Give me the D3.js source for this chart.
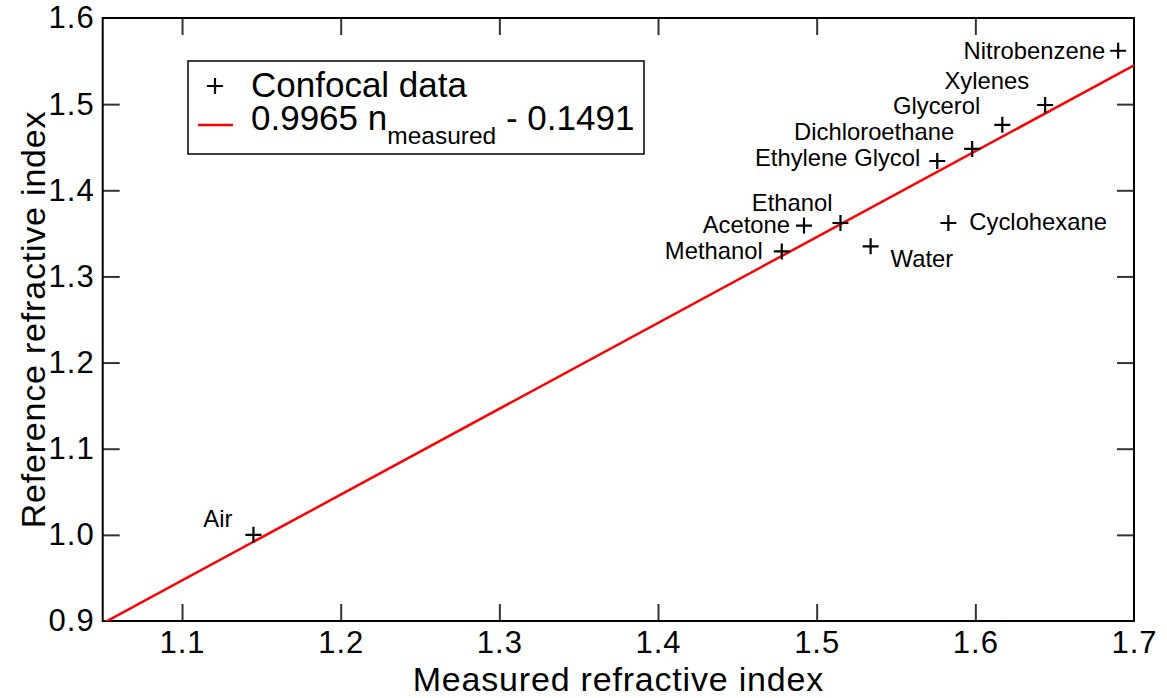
<!DOCTYPE html>
<html>
<head>
<meta charset="utf-8">
<script src="https://cdn.jsdelivr.net/npm/d3@7"></script>
<style>
	body { margin: 0; background: #fff; }
	text { font-family: "Liberation Sans", Arial, sans-serif; fill: #000; }
</style>
</head>
<body>
<svg id="chart" width="1167" height="698"></svg>
<script>
// solvents, measured (confocal) vs reference refractive index
var names = ["Air", "Methanol", "Acetone", "Ethanol", "Water", "Cyclohexane",
	"Ethylene Glycol", "Dichloroethane", "Glycerol", "Xylenes", "Nitrobenzene"];
var measured = [1.145, 1.478, 1.492, 1.515, 1.534, 1.583, 1.576, 1.598, 1.617, 1.644, 1.690];
var reference = [1.000, 1.329, 1.359, 1.362, 1.335, 1.362, 1.434, 1.448, 1.476, 1.499, 1.562];

// linear fit shown in legend
var fit_slope = 0.9965;
var fit_offset = -0.1491;

var x_ticks = [1.1, 1.2, 1.3, 1.4, 1.5, 1.6, 1.7];
var y_ticks = [0.9, 1.0, 1.1, 1.2, 1.3, 1.4, 1.5, 1.6];

// label placement around each point: [dx, dy, anchor]
var label_offsets = [
	[-21, -8, "end"], [-19, 8, "end"], [-14, 7, "end"], [-8, -12, "end"],
	[20, 21, "start"], [21, 7, "start"], [-17, 5, "end"], [-18, -9, "end"],
	[-22, -11, "end"], [-16, -16, "end"], [-13, 8, "end"]
];

// plot area (window.top is read-only, so no bare "top")
var plot_left = 102.7, plot_right = 1134, plot_top = 18, plot_bottom = 621;

var svg = d3.select("#chart");

var x = d3.scaleLinear().domain([1.05, 1.7]).range([plot_left, plot_right]);
var y = d3.scaleLinear().domain([0.9, 1.6]).range([plot_bottom, plot_top]);

svg.append("clipPath").attr("id", "plot_clip")
	.append("rect")
	.attr("x", plot_left).attr("y", plot_top)
	.attr("width", plot_right - plot_left).attr("height", plot_bottom - plot_top);

// axes with inward ticks on all four sides
function style_axis(g, show_labels){
	g.select(".domain").remove();
	g.selectAll(".tick line").attr("stroke", "#333").attr("stroke-width", 2);
	g.selectAll(".tick text").style("font-size", "31px").style("letter-spacing", "1px");
	if(!show_labels) g.selectAll(".tick text").remove();
}

var inner_x = x_ticks.filter(function(d){ return d < 1.7; });
var inner_y = y_ticks.filter(function(d){ return d > 0.9 && d < 1.6; });

svg.append("g")
	.attr("transform", "translate(0," + plot_bottom + ")")
	.call(d3.axisBottom(x).tickValues(x_ticks).tickFormat(d3.format(".1f"))
		.tickSizeInner(-17).tickSizeOuter(0).tickPadding(10))
	.call(function(g){
		style_axis(g, true);
		g.selectAll(".tick line").filter(function(d){ return d >= 1.7; }).remove();
	});

svg.append("g")
	.attr("transform", "translate(0," + plot_top + ")")
	.call(d3.axisTop(x).tickValues(inner_x).tickSizeInner(-17).tickSizeOuter(0))
	.call(function(g){ style_axis(g, false); });

svg.append("g")
	.attr("transform", "translate(" + plot_left + ",0)")
	.call(d3.axisLeft(y).tickValues(y_ticks).tickFormat(d3.format(".1f"))
		.tickSizeInner(-17).tickSizeOuter(0).tickPadding(8))
	.call(function(g){
		style_axis(g, true);
		g.selectAll(".tick line").filter(function(d){ return d <= 0.9 || d >= 1.6; }).remove();
	});

svg.append("g")
	.attr("transform", "translate(" + plot_right + ",0)")
	.call(d3.axisRight(y).tickValues(inner_y).tickSizeInner(-17).tickSizeOuter(0))
	.call(function(g){ style_axis(g, false); });

// frame
svg.append("rect")
	.attr("x", plot_left).attr("y", plot_top)
	.attr("width", plot_right - plot_left).attr("height", plot_bottom - plot_top)
	.attr("fill", "none").attr("stroke", "#000").attr("stroke-width", 2);

// fit line
var fit_x = [1.05, 1.7];
svg.append("line")
	.attr("clip-path", "url(#plot_clip)")
	.attr("x1", x(fit_x[0])).attr("y1", y(fit_slope * fit_x[0] + fit_offset))
	.attr("x2", x(fit_x[1])).attr("y2", y(fit_slope * fit_x[1] + fit_offset))
	.attr("stroke", "#ff0000").attr("stroke-width", 2.5);

// plus markers
var pts = svg.append("g").selectAll("g.pt")
	.data(names)
	.enter().append("g")
	.attr("class", "pt")
	.attr("transform", function(d, i){
		return "translate(" + x(measured[i]) + "," + y(reference[i]) + ")";
	});

pts.append("path")
	.attr("d", "M-8,0H8M0,-8V8")
	.attr("stroke", "#000").attr("stroke-width", 2.2);

pts.append("text")
	.attr("x", function(d, i){ return label_offsets[i][0]; })
	.attr("y", function(d, i){ return label_offsets[i][1]; })
	.attr("text-anchor", function(d, i){ return label_offsets[i][2]; })
	.style("font-size", "23.8px")
	.text(function(d){ return d; });

// axis titles
svg.append("text")
	.attr("x", (plot_left + plot_right) / 2).attr("y", 691)
	.attr("text-anchor", "middle")
	.style("font-size", "34px").style("letter-spacing", "0.8px")
	.text("Measured refractive index");

svg.append("text")
	.attr("transform", "translate(45," + ((plot_top + plot_bottom) / 2) + ") rotate(-90)")
	.attr("text-anchor", "middle")
	.style("font-size", "34px").style("letter-spacing", "0.8px")
	.text("Reference refractive index");

// legend
var legend = svg.append("g");
legend.append("rect")
	.attr("x", 188).attr("y", 61)
	.attr("width", 456).attr("height", 93)
	.attr("fill", "#fff").attr("stroke", "#000").attr("stroke-width", 1.5);

legend.append("path")
	.attr("d", "M207,86H223M215,78V94")
	.attr("stroke", "#000").attr("stroke-width", 2.2);
legend.append("text")
	.attr("x", 251).attr("y", 97)
	.style("font-size", "35px")
	.text("Confocal data");

legend.append("line")
	.attr("x1", 198).attr("x2", 233).attr("y1", 125).attr("y2", 125)
	.attr("stroke", "#ff0000").attr("stroke-width", 2.5);
var fit_label = legend.append("text")
	.attr("x", 251).attr("y", 130)
	.style("font-size", "35px");
fit_label.append("tspan").text(fit_slope.toFixed(4) + " n");
fit_label.append("tspan").attr("dy", 14).style("font-size", "24.5px").text("measured");
fit_label.append("tspan").attr("dy", -14).text(" - " + Math.abs(fit_offset).toFixed(4));
</script>
</body>
</html>
